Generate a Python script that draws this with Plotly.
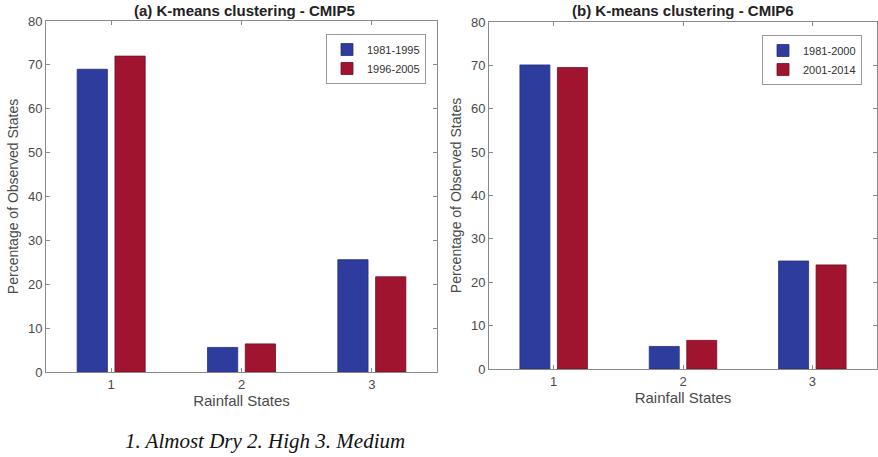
import plotly.graph_objects as go

states = [1, 2, 3]
state_ticks = ["1", "2", "3"]

cmip5_p1_name = "1981-1995"
cmip5_p2_name = "1996-2005"
cmip5_p1 = [69.0, 5.6, 25.6]
cmip5_p2 = [72.0, 6.4, 21.7]

cmip6_p1_name = "1981-2000"
cmip6_p2_name = "2001-2014"
cmip6_p1 = [70.1, 5.2, 24.9]
cmip6_p2 = [69.5, 6.6, 24.0]

y_ticks = [0, 10, 20, 30, 40, 50, 60, 70, 80]

BLUE = "#2E3C9E"
RED = "#A0142F"
BLUE_EDGE = "#26307E"
RED_EDGE = "#6E1020"
AX = "#8a8a8a"
TXT = "#4a4a4a"
FONT = "Liberation Sans, Arial, sans-serif"

fig = go.Figure()

fig.add_trace(go.Bar(x=states, y=cmip5_p1, name=cmip5_p1_name, marker=dict(color=BLUE, line=dict(color=BLUE_EDGE, width=0.8)),
                     xaxis="x", yaxis="y", legend="legend"))
fig.add_trace(go.Bar(x=states, y=cmip5_p2, name=cmip5_p2_name, marker=dict(color=RED, line=dict(color=RED_EDGE, width=0.8)),
                     xaxis="x", yaxis="y", legend="legend"))
fig.add_trace(go.Bar(x=states, y=cmip6_p1, name=cmip6_p1_name, marker=dict(color=BLUE, line=dict(color=BLUE_EDGE, width=0.8)),
                     xaxis="x2", yaxis="y2", legend="legend2"))
fig.add_trace(go.Bar(x=states, y=cmip6_p2, name=cmip6_p2_name, marker=dict(color=RED, line=dict(color=RED_EDGE, width=0.8)),
                     xaxis="x2", yaxis="y2", legend="legend2"))

W, H = 878, 457

def xax(domain, anchor):
    return dict(domain=domain, anchor=anchor, range=[0.5, 3.5], tickmode="array", tickvals=states, ticktext=state_ticks,
                ticks="inside", ticklen=4, tickcolor=AX, showline=True, linecolor=AX, linewidth=1, mirror="ticks",
                showgrid=False, zeroline=False, automargin=False,
                tickfont=dict(family=FONT, size=13, color=TXT),
                title=dict(text="Rainfall States", font=dict(family=FONT, size=15, color=TXT), standoff=2))

def yax(domain, anchor):
    return dict(domain=domain, anchor=anchor, range=[0, 80], tickmode="array", tickvals=y_ticks,
                ticks="inside", ticklen=4, tickcolor=AX, showline=True, linecolor=AX, linewidth=1, mirror="ticks",
                showgrid=False, zeroline=False, automargin=False,
                tickfont=dict(family=FONT, size=13, color=TXT),
                title=dict(text="Percentage of Observed States", font=dict(family=FONT, size=14, color=TXT), standoff=6))

fig.update_layout(
    width=W, height=H,
    margin=dict(l=0, r=0, t=0, b=0),
    paper_bgcolor="white", plot_bgcolor="white",
    barmode="group", bargap=0.42, bargroupgap=0.2,
    xaxis=xax([46 / W, 437 / W], "y"),
    yaxis=yax([1 - 372 / H, 1 - 21 / H], "x"),
    xaxis2=xax([489 / W, 877 / W], "y2"),
    yaxis2=yax([1 - 369 / H, 1 - 22 / H], "x2"),
    legend=dict(x=426 / W, y=1 - 34 / H, xanchor="right", yanchor="top", bgcolor="white", bordercolor="#9a9a9a",
                borderwidth=1, font=dict(family=FONT, size=11, color="#333"), tracegroupgap=0, itemwidth=30),
    legend2=dict(x=862 / W, y=1 - 35 / H, xanchor="right", yanchor="top", bgcolor="white", bordercolor="#9a9a9a",
                 borderwidth=1, font=dict(family=FONT, size=11, color="#333"), tracegroupgap=0, itemwidth=30),
    showlegend=True,
    annotations=[
        dict(text="<b>(a) K-means clustering - CMIP5</b>", x=244 / W, y=1 - 10 / H, xref="paper", yref="paper",
             xanchor="center", yanchor="middle",
             showarrow=False, font=dict(family=FONT, size=15, color="#222")),
        dict(text="<b>(b) K-means clustering - CMIP6</b>", x=683 / W, y=1 - 10 / H, xref="paper", yref="paper",
             xanchor="center", yanchor="middle",
             showarrow=False, font=dict(family=FONT, size=15, color="#222")),
        dict(text="<i>1. Almost Dry 2. High 3. Medium</i>", x=265 / W, y=1 - 441 / H, xref="paper", yref="paper",
             xanchor="center", yanchor="middle",
             showarrow=False, font=dict(family="Liberation Serif, Times New Roman, serif", size=21, color="#111")),
    ],
)

fig.write_html("out.html", config={"displayModeBar": False},
               post_script="document.body.style.margin='0';document.body.style.overflow='hidden';")
